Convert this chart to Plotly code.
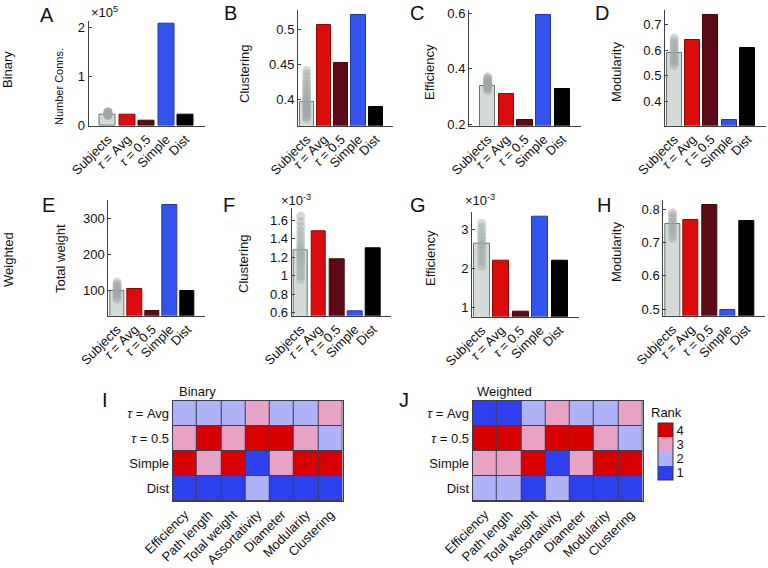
import plotly.graph_objects as go

W, H = 768, 568

# bar chart categories
bar_labels = ["Subjects", "<i>τ</i> = Avg", "<i>τ</i> = 0.5", "Simple", "Dist"]
bar_x = [1, 2, 3, 4, 5]

# binary row (A-D)
conn_bin = [0.23, 0.23, 0.10, 2.07, 0.225]          # x 1e5
clust_bin = [0.3966, 0.506, 0.4517, 0.5204, 0.3894]
eff_bin = [0.339, 0.311, 0.2155, 0.595, 0.329]
mod_bin = [0.587, 0.640, 0.736, 0.329, 0.607]

# weighted row (E-H)
weight_w = [100, 104, 44.8, 336, 100]
clust_w = [1.272, 1.478, 1.18, 0.62, 1.30]           # x 1e-3
eff_w = [2.64, 2.205, 0.89, 3.32, 2.19]              # x 1e-3
mod_w = [0.755, 0.768, 0.813, 0.497, 0.765]

# individual subjects (grey dots)
subj_conn_bin = [0.20, 0.21, 0.22, 0.23, 0.24, 0.25, 0.26, 0.27, 0.28, 0.29]
subj_clust_bin = [0.372, 0.375, 0.378, 0.381, 0.383, 0.386, 0.388, 0.390, 0.392, 0.395,
                  0.397, 0.400, 0.402, 0.405, 0.408, 0.411, 0.414, 0.418, 0.422, 0.426,
                  0.431, 0.436, 0.441]
subj_eff_bin = [0.322, 0.327, 0.331, 0.335, 0.338, 0.341, 0.344, 0.347, 0.350, 0.353,
                0.357, 0.361, 0.366, 0.371]
subj_mod_bin = [0.540, 0.552, 0.561, 0.570, 0.579, 0.588, 0.597, 0.606, 0.615, 0.624,
                0.634, 0.645]
subj_weight_w = [76, 82, 88, 93, 97, 100, 104, 108, 113, 118, 124]
subj_clust_w = [0.96, 1.00, 1.05, 1.10, 1.14, 1.18, 1.21, 1.24, 1.27, 1.30, 1.33, 1.36,
                1.40, 1.44, 1.48, 1.53, 1.58, 1.64]
subj_eff_w = [2.05, 2.15, 2.25, 2.35, 2.45, 2.55, 2.62, 2.70, 2.78, 2.86, 2.95, 3.05, 3.15]
subj_mod_w = [0.712, 0.722, 0.732, 0.742, 0.750, 0.758, 0.766, 0.774, 0.782, 0.790]

# rank heatmaps (I, J)
rank_rows = ["<i>τ</i> = Avg", "<i>τ</i> = 0.5", "Simple", "Dist"]
rank_cols = ["Efficiency", "Path length", "Total weight", "Assortativity",
             "Diameter", "Modularity", "Clustering"]
rank_bin_avg = [2, 2, 2, 3, 2, 2, 3]
rank_bin_05 = [3, 4, 3, 4, 4, 3, 2]
rank_bin_simple = [4, 3, 4, 1, 3, 4, 4]
rank_bin_dist = [1, 1, 1, 2, 1, 1, 1]
rank_w_avg = [1, 1, 2, 3, 2, 2, 3]
rank_w_05 = [4, 4, 3, 4, 4, 3, 2]
rank_w_simple = [3, 3, 4, 1, 3, 4, 4]
rank_w_dist = [2, 2, 1, 2, 1, 1, 1]

FONT = "Arial, Liberation Sans, sans-serif"
AX = "#404040"
TXT = "#111"
bar_fill = ["#d3dad8", "#dc0c0c", "#5c0b16", "#3354ef", "#000000"]
bar_edge = ["#6c7474", "#8c0808", "#3a080c", "#27399c", "#000000"]


def xd(a, b):
    return [max(0, a / W), min(1, b / W)]


def yd(top, bottom):
    return [max(0, 1 - bottom / H), min(1, 1 - top / H)]


# panel: values, subjects, x px, y px, x range, y range, ticks, tick text
panels = [
    (conn_bin, subj_conn_bin, (88.5, 205), (20.7, 125.7), [0, 6], [0, 2.13],
     [0, 1, 2], ["0", "1", "2"]),
    (clust_bin, subj_clust_bin, (298, 393), (10, 125.7), [0.5, 6], [0.3623, 0.5276],
     [0.4, 0.45, 0.5], ["0.4", "0.45", "0.5"]),
    (eff_bin, subj_eff_bin, (469, 581), (10, 125.7), [0, 6], [0.195, 0.612],
     [0.2, 0.4, 0.6], ["0.2", "0.4", "0.6"]),
    (mod_bin, subj_mod_bin, (665, 766), (10, 125.7), [0.5, 6], [0.307, 0.755],
     [0.4, 0.5, 0.6, 0.7], ["0.4", "0.5", "0.6", "0.7"]),
    (weight_w, subj_weight_w, (108.3, 205), (200, 315.7), [0.5, 6], [30.9, 350.5],
     [100, 200, 300], ["100", "200", "300"]),
    (clust_w, subj_clust_w, (291.7, 391), (208.3, 315.7), [0.5, 6], [0.568, 1.727],
     [0.6, 0.8, 1, 1.2, 1.4, 1.6], ["0.6", "0.8", "1", "1.2", "1.4", "1.6"]),
    (eff_w, subj_eff_w, (472, 579), (211.7, 316.7), [0.5, 6], [0.76, 3.45],
     [1, 2, 3], ["1", "2", "3"]),
    (mod_w, subj_mod_w, (663.3, 765), (200, 315.7), [0.5, 6], [0.48, 0.828],
     [0.5, 0.6, 0.7, 0.8], ["0.5", "0.6", "0.7", "0.8"]),
]

fig = go.Figure()
layout = {}

for i, (vals, subj, xpx, ypx, xr, yr, tv, tt) in enumerate(panels):
    n = i + 1
    xa, ya = f"x{n}", f"y{n}"
    fig.add_trace(go.Bar(
        x=bar_x, y=vals, width=0.82, xaxis=xa, yaxis=ya,
        marker=dict(color=bar_fill, line=dict(color=bar_edge, width=1)),
        showlegend=False, hoverinfo="y"))
    fig.add_trace(go.Scatter(
        x=[1] * len(subj), y=subj, mode="markers", xaxis=xa, yaxis=ya,
        marker=dict(color="#9ea8a7", size=9, opacity=0.45, line=dict(width=0)),
        showlegend=False, hoverinfo="y"))
    layout[f"xaxis{n}"] = dict(
        domain=xd(*xpx), range=xr, anchor=ya, tickmode="array", tickvals=bar_x,
        ticktext=bar_labels, tickangle=-45, showline=True, linecolor=AX, linewidth=1,
        ticks="", showgrid=False, zeroline=False, automargin=False,
        tickfont=dict(size=13, color=TXT, family=FONT))
    layout[f"yaxis{n}"] = dict(
        domain=yd(*ypx), range=yr, anchor=xa, tickmode="array", tickvals=tv,
        ticktext=tt, showline=True, linecolor=AX, linewidth=1, ticks="inside",
        ticklen=3, tickcolor=AX, showgrid=False, zeroline=False, automargin=False,
        tickfont=dict(size=13, color=TXT, family=FONT))

# heatmaps
c1, c2, c3, c4 = "#2e40ee", "#aeb2f6", "#e8a2c4", "#d80000"
rank_scale = [[0, c1], [0.25, c1], [0.25, c2], [0.5, c2],
              [0.5, c3], [0.75, c3], [0.75, c4], [1, c4]]
heat = [
    ([rank_bin_avg, rank_bin_05, rank_bin_simple, rank_bin_dist], (172.7, 342.7), False),
    ([rank_w_avg, rank_w_05, rank_w_simple, rank_w_dist], (472.7, 642.7), True),
]
shapes = []
for j, (z, xpx, scale) in enumerate(heat):
    n = 9 + j
    xa, ya = f"x{n}", f"y{n}"
    fig.add_trace(go.Heatmap(
        z=z, x=list(range(7)), y=list(range(4)), xaxis=xa, yaxis=ya,
        colorscale=rank_scale, zmin=0.5, zmax=4.5, xgap=1, ygap=1,
        showscale=scale, hoverinfo="z",
        colorbar=dict(x=658 / W, xanchor="left", y=1 - 451.5 / H,
                      yanchor="middle", len=57, lenmode="pixels", thickness=15,
                      thicknessmode="pixels", tickmode="array", tickvals=[1, 2, 3, 4],
                      ticks="", outlinecolor="#333", outlinewidth=1, xpad=0, ypad=0,
                      tickfont=dict(size=13, color=TXT, family=FONT))))
    shapes.append(dict(type="rect", xref=xa, yref=ya, x0=-0.5, x1=6.5, y0=-0.5, y1=3.5,
                       fillcolor="#3c3c50", line=dict(width=0), layer="below"))
    layout[f"xaxis{n}"] = dict(
        domain=xd(*xpx), range=[-0.5, 6.5], anchor=ya, tickmode="array",
        tickvals=list(range(7)), ticktext=rank_cols, tickangle=-45, showline=True,
        mirror=True, linecolor="#3c3c50", linewidth=1, ticks="", showgrid=False,
        zeroline=False, automargin=False,
        tickfont=dict(size=13, color=TXT, family=FONT))
    layout[f"yaxis{n}"] = dict(
        domain=yd(401, 501), range=[3.5, -0.5], anchor=xa, tickmode="array",
        tickvals=list(range(4)), ticktext=rank_rows, showline=True, mirror=True,
        linecolor="#3c3c50", linewidth=1, ticks="", showgrid=False, zeroline=False,
        automargin=False, tickfont=dict(size=13, color=TXT, family=FONT))


def note(text, x, y, size=13, xanchor="center", angle=0):
    return dict(text=text, x=x / W, y=1 - y / H, xref="paper", yref="paper",
                xanchor=xanchor, yanchor="middle", textangle=angle, showarrow=False,
                font=dict(size=size, color=TXT, family=FONT))


annotations = [
    # panel letters
    note("A", 47, 15, 20), note("B", 230, 13, 20), note("C", 417, 13, 20),
    note("D", 602, 13, 20), note("E", 48, 205, 20), note("F", 229, 205, 20),
    note("G", 418, 205, 20), note("H", 604, 205, 20),
    note("I", 105, 400, 20), note("J", 404, 400, 20),
    # exponents
    note("×10<sup>5</sup>", 89, 12, 13, "left"),
    note("×10<sup>-3</sup>", 279, 200, 13, "left"),
    note("×10<sup>-3</sup>", 463, 200, 13, "left"),
    # y-axis titles
    note("Number Conns.", 59, 87, 11, angle=-90),
    note("Clustering", 245, 74, 13, angle=-90),
    note("Efficiency", 429, 72, 13, angle=-90),
    note("Modularity", 616, 72, 13, angle=-90),
    note("Total weight", 60, 259, 13, angle=-90),
    note("Clustering", 243, 264, 13, angle=-90),
    note("Efficiency", 430, 258, 13, angle=-90),
    note("Modularity", 616, 252, 13, angle=-90),
    # row titles and heatmap titles
    note("Binary", 8, 70, 13, angle=-90),
    note("Weighted", 8, 260, 13, angle=-90),
    note("Binary", 177, 391, 13, "left"),
    note("Weighted", 475, 391, 13, "left"),
    note("Rank", 666, 412, 13),
]

fig.update_layout(
    width=W, height=H, margin=dict(l=0, r=0, t=0, b=0),
    paper_bgcolor="white", plot_bgcolor="white", bargap=0,
    font=dict(family=FONT, size=13, color=TXT),
    shapes=shapes, annotations=annotations, **layout)

# drop the default 8px page margin so the figure fills the window
fig.write_html("out.html", config={"displayModeBar": False},
               post_script="document.body.style.margin = '0';")
